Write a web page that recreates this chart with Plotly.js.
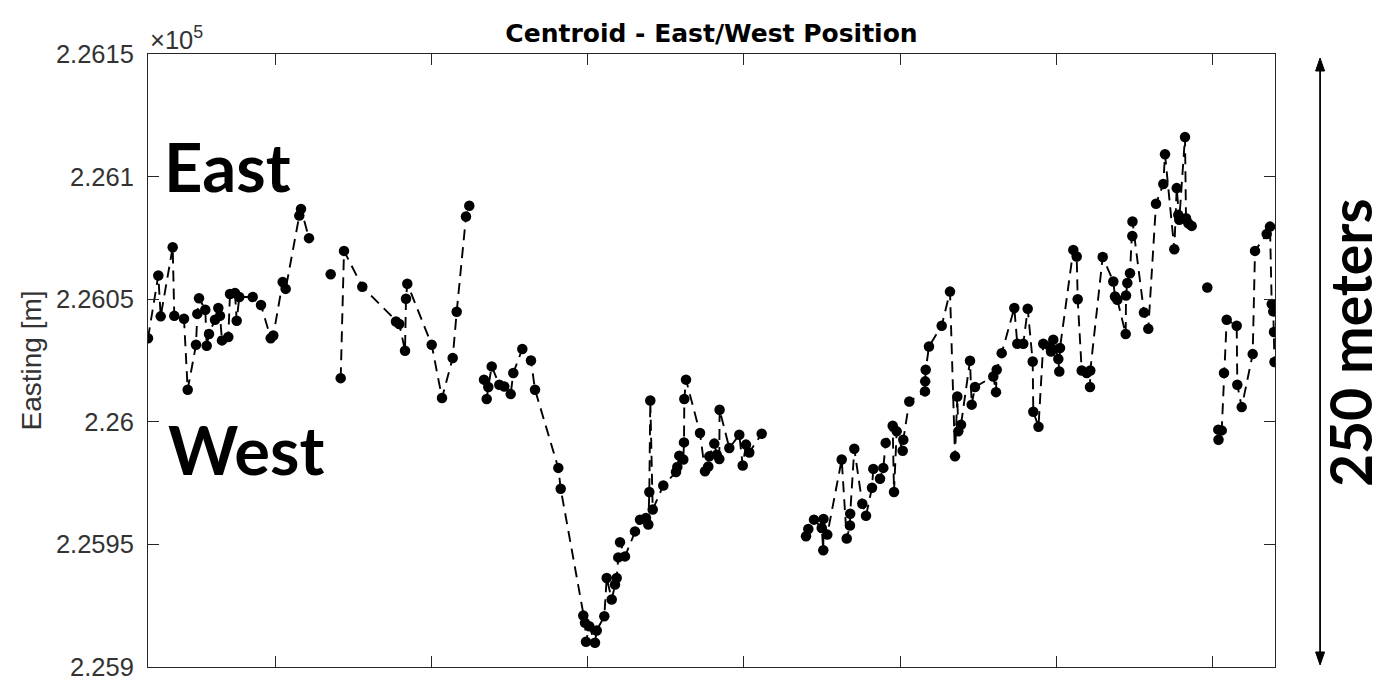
<!DOCTYPE html>
<html>
<head>
<meta charset="utf-8">
<script src="https://cdn.plot.ly/plotly-3.0.1.min.js"></script>
<style>html,body{margin:0;padding:0;background:#fff;}#chart{width:1393px;height:684px;}</style>
</head>
<body>
<div id="chart"></div>
<script>
// Sample position along the track (arbitrary time index; x tick labels are hidden in the source)
const sampleIdx = [
0,10.3,12.7,24.7,26.3,36,39.7,48,49.3,51,57.3,58.7,61,67,70.3,72,74,80.3,82,87,88.7,91.3,104.7,113,122.7,125.3,134.7,137.7,151.3,153,161,
172,182.7,188,
192.7,196,214.3,248,251.3,257,258,259.3,283.7,294,304.7,308.7,318,321.3,
330,
336,338.7,340.3,343.7,351.3,356.3,362.7,365.3,374.3,383,387,410.3,412.7,435.3,437,438,441.3,447,448.7,456.3,458.7,463.7,467,468.7,470.3,472,477,487,492,498,500.3,501.3,502.3,504.7,515.3,528,529.3,531.3,535.3,536,536.3,538,552,557,560.3,561.3,566.3,568.7,571.3,571.6,581.3,591.3,594.7,598,601.3,613.7,
636,
658,660.3,666,673.7,675.3,675.5,679.3,693.7,698.7,702,702.2,706.3,714.3,718,724,725.3,732,735.3,737.7,744.7,746,748.7,754.7,755.3,761.3,777,777.2,777.7,781,793.7,802,807,809.3,810.3,813,822,823.7,827,845.3,848,848.7,853.7,866.3,869.3,875.3,879.7,884.7,885.3,890.5,895.3,902,903,905.3,910.3,911.3,912,925.3,928.7,929.7,933.7,938.7,942,942.3,954.7,965.3,967,969.3,977.7,978,979.3,982,984.3,984.5,996,1000.3,1008,1015.3,1017,1026.3,1028.7,1030.3,1031.3,1037,1038,1040.3,1043.7,
1050,1059.3,1065,
1070.3,1070.5,1073.7,1076,1078.7,1088.7,1089.3,1093.7,1104.7,1107,1118.7,1122,1123.7,1125.3,1126,1126.5
];
// Centroid easting [m]; null marks a break in the track
const easting = [
226034.1,226059.7,226043.0,226071.2,226043.2,226042.0,226013.1,226031.4,226044.0,226050.4,226045.7,226031.0,226035.8,226041.6,226046.4,226043.2,226033.2,226034.6,226052.1,226052.5,226041.2,226050.9,226050.9,226047.6,226034.1,226035.2,226057.0,226054.2,226084.1,226086.8,226074.9,
null,226060.2,null,
226017.8,226069.7,226055.1,226040.9,226039.9,226029.0,226050.2,226056.3,226031.4,226009.7,226026.0,226044.9,226083.7,226088.1,
null,
226017.2,226009.3,226014.2,226022.6,226015.1,226014.4,226011.3,226019.9,226029.7,226025.0,226013.1,225981.2,225972.7,225921.0,225918.0,225910.3,225916.6,225909.9,225914.9,225920.7,225936.3,225927.5,225933.6,225936.3,225944.7,225950.9,225945.1,225955.3,225960.1,225960.8,225958.1,225971.4,226008.7,225964.2,225974.0,225979.5,225981.6,225986.2,225984.6,225991.6,226009.3,226017.2,225995.4,225979.8,225981.8,225985.9,225991.1,225986.6,225984.8,226004.9,225989.3,225994.7,225982.2,225990.7,225987.5,225995.1,
null,
225953.3,225956.3,225960.1,225956.7,225947.6,225960.4,225954.0,225984.6,225952.4,225957.7,225962.5,225989.0,225966.6,225961.7,225973.1,225980.8,225976.8,225981.2,225991.4,225998.4,225971.4,225996.1,225988.2,225992.7,226008.3,226012.4,226016.5,226021.2,226030.7,226039.2,226053.1,225985.9,226010.3,225996.1,225998.8,226024.9,226007.0,226014.2,226018.5,226012.1,226021.2,226028.0,226046.4,226031.8,226031.8,226046.1,226024.6,226004.1,225998.0,226031.8,226030.7,226028.7,226033.5,226025.6,226020.5,226030.1,226070.1,226067.4,226050.0,226020.9,226019.9,226014.2,226020.9,226067.2,226057.2,226051.1,226049.8,226035.8,226051.5,226056.6,226060.6,226075.8,226081.7,226044.6,226037.9,226088.9,226097.0,226109.1,226070.4,226095.3,226084.4,226082.4,226116.1,226083.0,226081.0,226079.9,
null,226054.8,null,
225996.8,225992.7,225996.5,226019.9,226041.6,226039.2,226015.1,226006.0,226027.6,226069.7,226076.6,226079.6,226048.0,226045.0,226036.6,226024.4
];
// Y tick values and their labels (in units of 10^5 m)
const yTickVals = [225900, 225950, 226000, 226050, 226100, 226150];
const yTickText = ["2.259", "2.2595", "2.26", "2.2605", "2.261", "2.2615"];

const axisColor = '#262626';
const labelFont = {family: 'Liberation Sans, Arial, sans-serif', size: 25.5, color: '#333333'};

const trace = {
  x: sampleIdx, y: easting, type: 'scatter', mode: 'lines+markers',
  connectgaps: false,
  line: {color: '#000000', width: 1.9, dash: '11px,7px'},
  marker: {color: '#000000', size: 10.5},
  hoverinfo: 'x+y'
};

// vertical scale bar (250 m) to the right of the axes, in paper units
const barX = 1.040, barTop = 0.9935, barBottom = 0.0033;

const layout = {
  width: 1393, height: 684, autosize: false,
  margin: {l: 148, r: 118, t: 54, b: 17, pad: 0},
  paper_bgcolor: '#ffffff', plot_bgcolor: '#ffffff',
  showlegend: false,
  title: {
    text: 'Centroid - East/West Position',
    font: {family: 'DejaVu Sans, Liberation Sans, sans-serif', size: 25, weight: 'bold', color: '#000000'},
    x: 0.5, xref: 'paper', xanchor: 'center',
    y: 1 - 33/684, yref: 'container', yanchor: 'middle'
  },
  xaxis: {
    range: [0, 1127], showgrid: false, zeroline: false,
    showline: true, linecolor: axisColor, linewidth: 1, mirror: 'ticks',
    ticks: 'inside', ticklen: 11, tickwidth: 1, tickcolor: axisColor,
    tick0: 127, dtick: 156.33, showticklabels: false
  },
  yaxis: {
    range: [225900, 226150], showgrid: false, zeroline: false,
    showline: true, linecolor: axisColor, linewidth: 1, mirror: 'ticks',
    ticks: 'inside', ticklen: 11, tickwidth: 1, tickcolor: axisColor,
    tickmode: 'array', tickvals: yTickVals, ticktext: yTickText,
    tickfont: labelFont, ticklabelstandoff: 8,
    title: {text: 'Easting [m]', font: {family: 'Liberation Sans, Arial, sans-serif', size: 28, color: '#333333'}, standoff: 6}
  },
  shapes: [
    {type: 'line', xref: 'paper', yref: 'paper', x0: barX, x1: barX, y0: barBottom + 0.015, y1: barTop - 0.015,
     line: {color: '#000000', width: 1.8}},
    {type: 'path', xref: 'paper', yref: 'paper', xsizemode: 'pixel', ysizemode: 'pixel',
     xanchor: barX, yanchor: barTop, path: 'M 0 0 L -4.5 -13 L 4.5 -13 Z',
     fillcolor: '#000000', line: {color: '#000000', width: 1}},
    {type: 'path', xref: 'paper', yref: 'paper', xsizemode: 'pixel', ysizemode: 'pixel',
     xanchor: barX, yanchor: barBottom, path: 'M 0 0 L -4.5 13 L 4.5 13 Z',
     fillcolor: '#000000', line: {color: '#000000', width: 1}}
  ],
  annotations: [
    {text: '×10<sup>5</sup>', xref: 'paper', yref: 'paper', x: 0, y: 1, xanchor: 'left', yanchor: 'bottom',
     showarrow: false, font: labelFont, yshift: -2},
    {text: '<b>East</b>', xref: 'paper', yref: 'paper', x: 0.0124, y: 0.8173, xanchor: 'left', yanchor: 'middle',
     showarrow: false, font: {family: 'Lato, sans-serif', size: 67, color: '#000000'}},
    {text: '<b>West</b>', xref: 'paper', yref: 'paper', x: 0.016, y: 0.3556, xanchor: 'left', yanchor: 'middle',
     showarrow: false, font: {family: 'Lato, sans-serif', size: 67, color: '#000000'}},
    {text: '<b>250 meters</b>', xref: 'paper', yref: 'paper', x: 1.0666, y: 0.5285, xanchor: 'center', yanchor: 'middle',
     textangle: -90, showarrow: false, font: {family: 'Lato, sans-serif', size: 57, color: '#000000'}}
  ]
};

Plotly.newPlot('chart', [trace], layout, {displayModeBar: false, staticPlot: true});
</script>
</body>
</html>
